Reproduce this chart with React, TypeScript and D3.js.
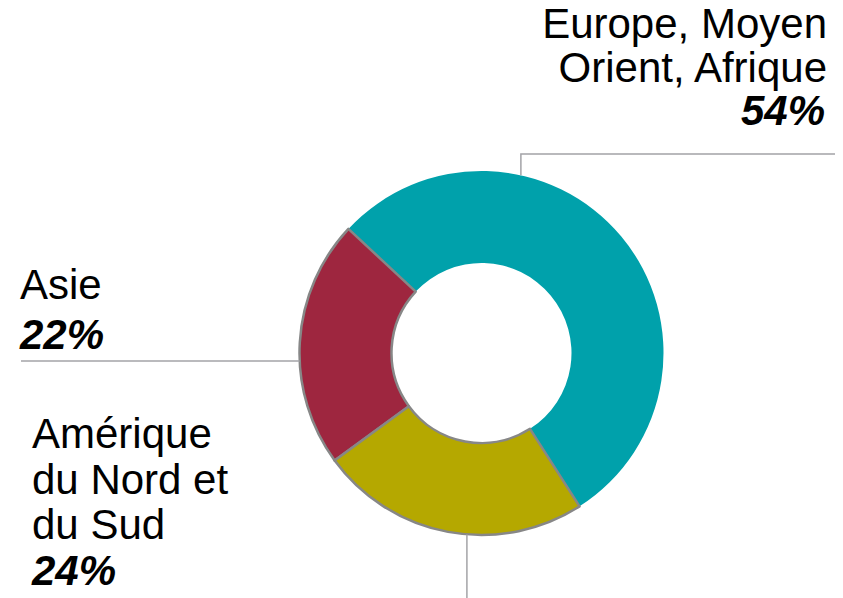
import React from "react";
import * as d3 from "d3";

const categories = ["Europe, Moyen Orient, Afrique", "Amérique du Nord et du Sud", "Asie"];
const values = [54, 24, 22];
const percentLabels = ["54%", "24%", "22%"];
const labelLines = [["Europe, Moyen", "Orient, Afrique"], ["Amérique", "du Nord et", "du Sud"], ["Asie"]];
const colors = ["#00A1AB", "#9E263F", "#B5A800"];

const W = 843;
const H = 598;
const cx = 481.5;
const cy = 353;
const outerR = 182;
const innerR = 90;
const FONT = "Arial, 'Liberation Sans', Helvetica, sans-serif";
const FS = 42;

export default function App() {
  const deg = Math.PI / 180;
  const pie = d3
    .pie<number>()
    .sort(null)
    .value((d) => d)
    .startAngle(-47 * deg)
    .endAngle(313 * deg);
  const arcs = pie(values);
  const arc = d3.arc<d3.PieArcDatum<number>>().innerRadius(innerR).outerRadius(outerR);
  const colorOf = [colors[0], colors[2], colors[1]];

  const pt = (a: number, r: number) => [cx + r * Math.sin(a * deg), cy - r * Math.cos(a * deg)];

  // leader line anchor points on outer edge
  const eu = pt(12.5, outerR);
  const as = pt(-92.5, outerR);
  const am = pt(184.6, outerR);

  const order = [0, 2, 1];
  return (
    <svg width={W} height={H} style={{ position: "absolute", left: 0, top: 0, background: "#fff" }}>
      <g transform={`translate(${cx},${cy})`}>
        {order.map((i) => (
          <path
            key={i}
            d={arc(arcs[i]) || ""}
            fill={colorOf[i]}
            stroke={i === 0 ? "none" : "#878787"}
            strokeWidth={i === 0 ? 0 : 2.5}
            strokeLinejoin="round"
          />
        ))}
      </g>
      {/* leader lines */}
      <polyline points={`${eu[0]},${eu[1]} ${eu[0]},154 835,154`} fill="none" stroke="#A3A3A7" strokeWidth={1.5} />
      <polyline points={`${as[0]},${as[1]} 21,${as[1]}`} fill="none" stroke="#A3A3A7" strokeWidth={1.5} />
      <polyline points={`${am[0]},${am[1]} ${am[0]},${H}`} fill="none" stroke="#A3A3A7" strokeWidth={1.5} />

      <g fontFamily={FONT} fontSize={FS} fill="#000">
        {/* Europe */}
        <text x={827} y={38} textAnchor="end">{labelLines[0][0]}</text>
        <text x={827} y={81.5} textAnchor="end">{labelLines[0][1]}</text>
        <text x={825} y={125} textAnchor="end" fontWeight="bold" fontStyle="italic">{percentLabels[0]}</text>
        {/* Amérique */}
        <text x={32} y={448}>{labelLines[1][0]}</text>
        <text x={32} y={493.5}>{labelLines[1][1]}</text>
        <text x={32} y={539}>{labelLines[1][2]}</text>
        <text x={32} y={585} fontWeight="bold" fontStyle="italic">{percentLabels[1]}</text>
        {/* Asie */}
        <text x={20} y={299}>{labelLines[2][0]}</text>
        <text x={20} y={349} fontWeight="bold" fontStyle="italic">{percentLabels[2]}</text>
      </g>
    </svg>
  );
}
